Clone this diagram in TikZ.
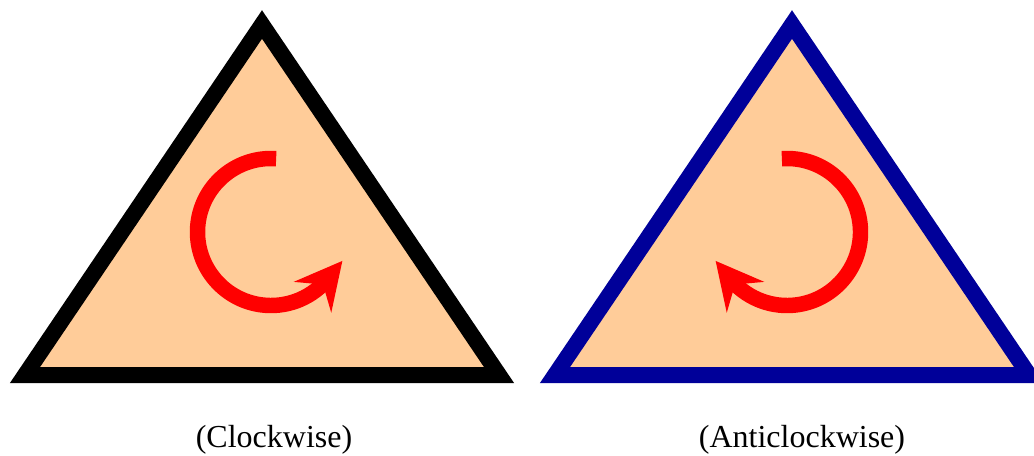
\documentclass[tikz,border=0pt]{standalone}
\usepackage{fontspec}
\setmainfont{Liberation Serif}
\usetikzlibrary{arrows.meta}
\definecolor{peach}{RGB}{255,204,153}
\definecolor{navy}{RGB}{0,0,153}
\tikzset{
  tri/.style={line width=12pt,line join=miter,fill=peach},
  turn/.style={red,line width=11.6pt,-{Stealth[length=34.9pt,width=35.7pt,inset=12pt]}},
  caption/.style={anchor=base,font=\fontsize{24}{28}\selectfont}
}
\begin{document}
\begin{tikzpicture}[scale=1,x=0.75pt,y=0.75pt]
\useasboundingbox(0,0)rectangle(1034,455);
\clip(0,0)rectangle(1034,455);
\foreach \dx/\col in {0/black,530/navy}
\draw[tri,draw=\col](25+\dx,80)--(262+\dx,430.5)--(499+\dx,80)--cycle;
\draw[turn]([shift={(86:73.5)}]271,223)arc[start angle=86,end angle=320.6,radius=73.5]--++(50.6:23);
\draw[turn]([shift={(94:73.5)}]787,223)arc[start angle=94,end angle=-140.6,radius=73.5]--++(129.4:23);
\node[caption](cw)at(274,8){(Clockwise)};
\node[caption](acw)at(802,8){(Anticlockwise)};
\end{tikzpicture}
\end{document}
